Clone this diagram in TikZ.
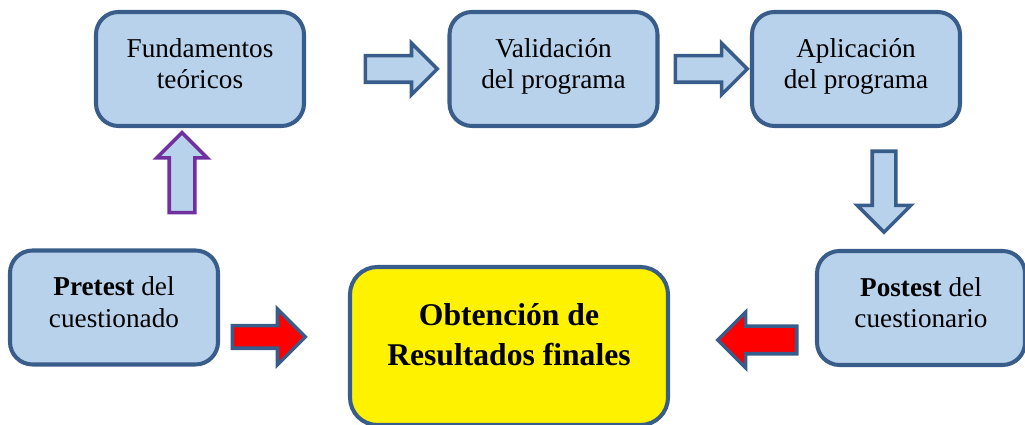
\documentclass[tikz,border=0pt]{standalone}
\usepackage{fontspec}
\setmainfont{Liberation Serif}
\usetikzlibrary{shapes.arrows}
\definecolor{cajafondo}{RGB}{185,210,236}
\definecolor{cajaborde}{RGB}{56,93,138}
\definecolor{morado}{RGB}{112,48,160}

\begin{document}
\begin{tikzpicture}
  [
  font=\fontsize{15.5}{17.8}\selectfont, line width=2.3pt,
  caja/.style={rectangle, minimum height=22.8mm, minimum width=41.6mm, draw=cajaborde, fill=cajafondo, rounded corners=4.5mm, align=center, text depth=2.2mm},
  resultado/.style={rectangle, minimum height=31.6mm, minimum width=63.6mm, draw=cajaborde, fill=yellow, rounded corners=5.5mm, align=center, font=\fontsize{18}{22.6}\selectfont\bfseries, text depth=4.5mm},
  flecha/.style={single arrow, draw=cajaborde, fill=cajafondo, line width=2pt, anchor=tail},
  flecharoja/.style={flecha, fill=red}
  ]

\useasboundingbox (0,0) rectangle (20.5,8.5);

% fila de arriba
\node[caja] (fund) at (4.00,7.12) {Fundamentos\\teóricos};
\node[caja] (valid) at (11.07,7.12) {Validación\\del programa};
\node[caja] (aplic) at (17.12,7.12) {Aplicación\\del programa};

% fila de abajo
\node[caja] (pre) at (2.28,2.35) {\textbf{Pretest} del\\cuestionado};
\node[caja] (post) at (18.42,2.34) {\textbf{Postest} del\\cuestionario};
\node[resultado] (res) at (10.18,1.58) {Obtención de\\Resultados finales};

% flechas gruesas (colocadas por la cola)
\node[flecha, inner sep=2.3mm, minimum height=14.4mm, single arrow head extend=2.5mm] (f1) at (7.27,7.12) {};
\node[flecha, inner sep=2.3mm, minimum height=14.4mm, single arrow head extend=2.5mm] (f2) at (13.47,7.12) {};
\node[flecha, draw=morado, shape border rotate=90, inner sep=2.2mm, minimum height=16mm, single arrow head extend=2.5mm] (f3) at (3.64,4.21) {};
\node[flecha, shape border rotate=270, inner sep=2mm, minimum height=16.2mm, single arrow head extend=3mm] (f4) at (17.68,5.51) {};
\node[flecharoja, inner sep=1.9mm, minimum height=14.6mm, single arrow head extend=3.3mm] (f5) at (4.61,1.76) {};
\node[flecharoja, shape border rotate=180, inner sep=2.4mm, minimum height=15.8mm, single arrow head extend=2.8mm] (f6) at (15.97,1.70) {};

\end{tikzpicture}
\end{document}
